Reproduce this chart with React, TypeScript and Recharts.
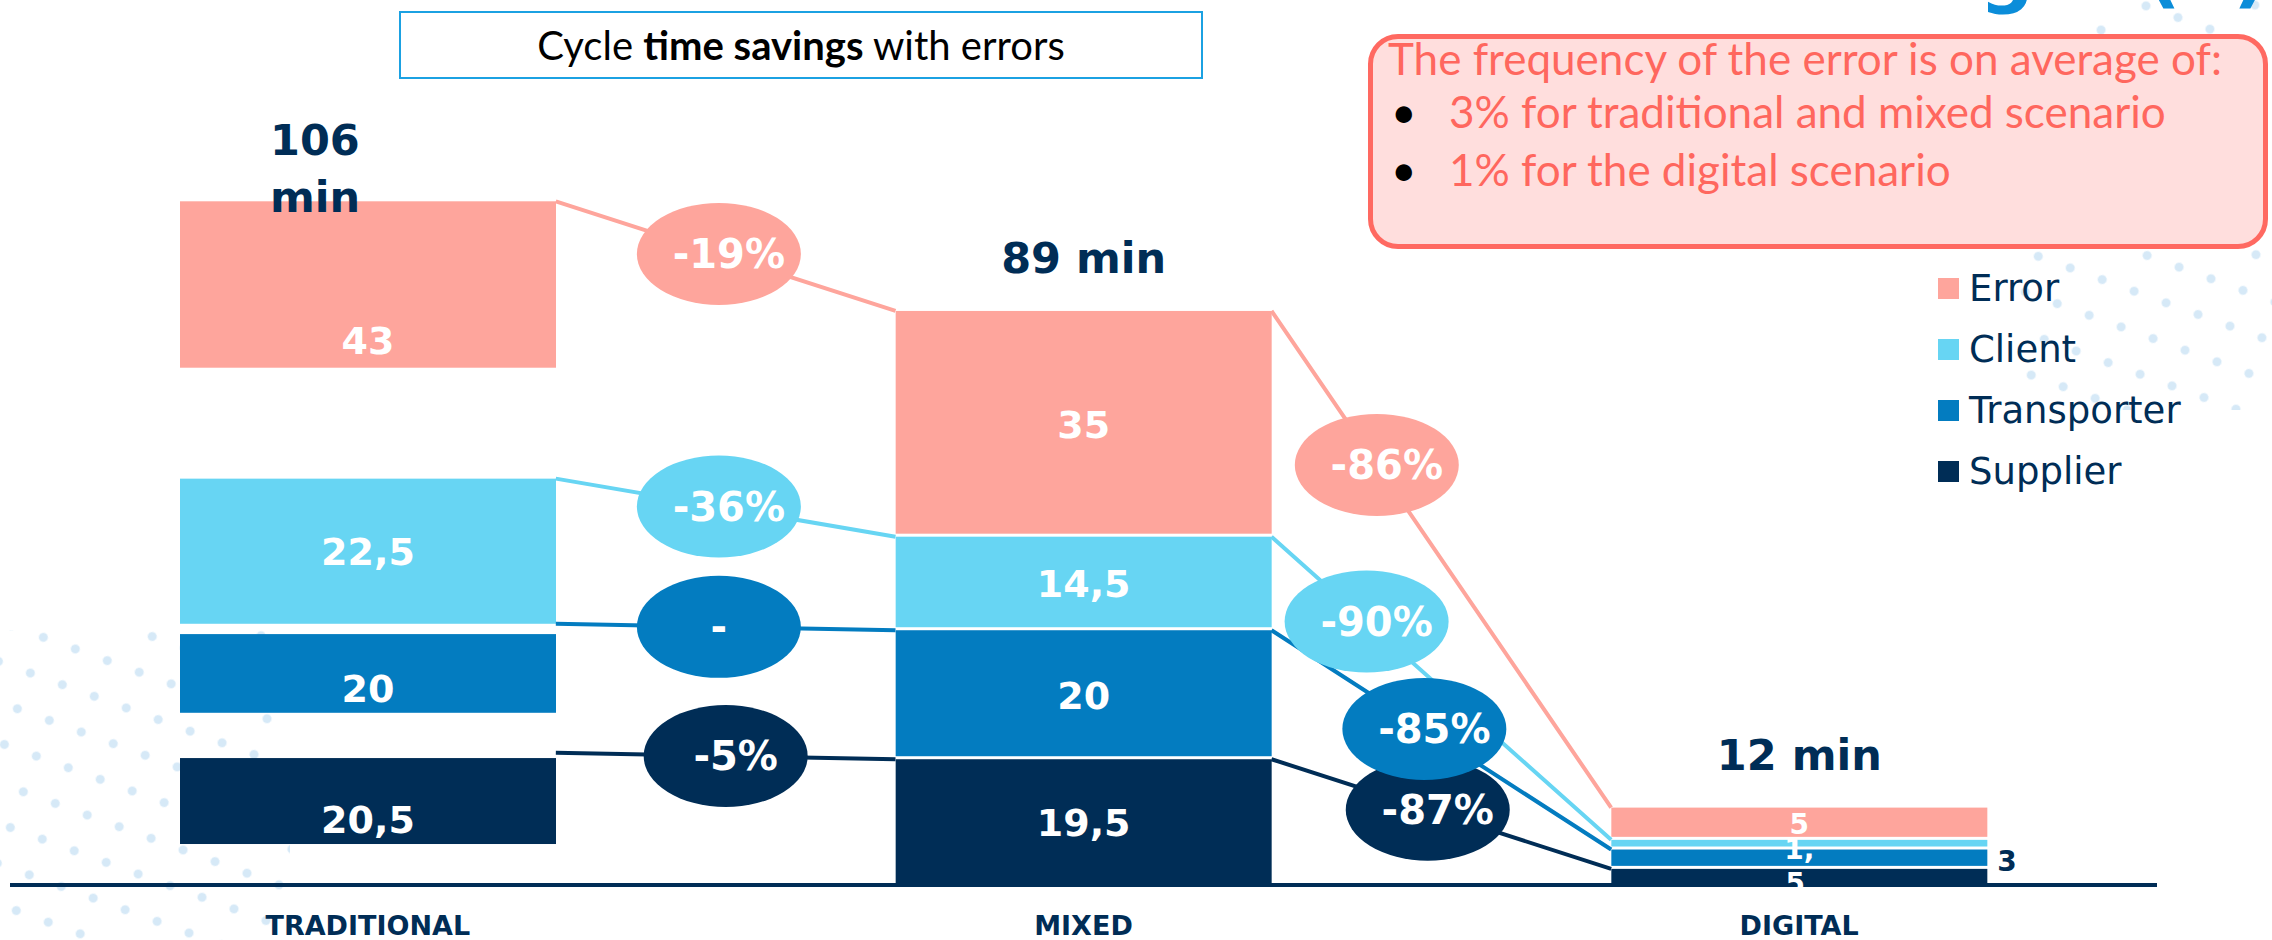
import React from "react";
import {
  ComposedChart,
  Bar,
  Line,
  Scatter,
  XAxis,
  YAxis,
  LabelList,
  Legend,
} from "recharts";

// minutes per actor and scenario
const categories = ["TRADITIONAL", "MIXED", "DIGITAL"];
const supplier = [20.5, 19.5, 2.5];
const transporter = [20, 20, 3];
const client = [22.5, 14.5, 1.5];
const errorTime = [43, 35, 5];
const totals = ["106 min", "89 min", "12 min"];
const toMixed: Record<string, string> = { supplier: "-5%", transporter: "-", client: "-36%", error: "-19%" };
const toDigital: Record<string, string> = { supplier: "-87%", transporter: "-85%", client: "-90%", error: "-86%" };

const NAVY = "#002D56";
const FONT = "'DejaVu Sans', Verdana, sans-serif";
const NOTE_FONT = "Lato, 'Open Sans', sans-serif";

const SERIES = [
  { key: "supplier", name: "Supplier", color: NAVY, values: supplier },
  { key: "transporter", name: "Transporter", color: "#037CC0", values: transporter },
  { key: "client", name: "Client", color: "#67D5F3", values: client },
  { key: "error", name: "Error", color: "#FEA59C", values: errorTime },
];

const W = 2272;
const H = 940;
const MARGIN = { top: 111, right: 115, bottom: 0, left: 10 };
const BAR = 376;
const PLOT_W = W - MARGIN.left - MARGIN.right;
const HW = BAR / 2 / (PLOT_W / categories.length); // half bar width in category units

// the traditional column is drawn "exploded": each block is trimmed (top, bottom fraction)
const TRAD_CUT: Record<string, [number, number]> = {
  supplier: [0.04, 0.31],
  transporter: [0.08, 0.31],
  client: [0, 0],
  error: [0, 0.4],
};
// where the % bubbles sit along each connector (0 = left bar, 1 = right bar)
const PILL_T: Record<string, [number, number]> = {
  supplier: [0.5, 0.46],
  transporter: [0.48, 0.45],
  client: [0.48, 0.28],
  error: [0.48, 0.31],
};

const rows = categories.map((name, i) => ({
  name,
  supplier: supplier[i],
  transporter: transporter[i],
  client: client[i],
  error: errorTime[i],
}));

const tops = SERIES.map((_, k) =>
  categories.map((_, i) => SERIES.slice(0, k + 1).reduce((a, s) => a + s.values[i], 0))
);

const linkData = (k: number) => [
  { x: 0.5 + HW, v: tops[k][0] },
  { x: 1.5 - HW, v: tops[k][1] },
  { x: 1.5, v: null },
  { x: 1.5 + HW, v: tops[k][1] },
  { x: 2.5 - HW, v: tops[k][2] },
];

const pills = SERIES.flatMap((s, k) => {
  const [t1, t2] = PILL_T[s.key];
  const span = 1 - 2 * HW;
  return [
    { x: 0.5 + HW + t1 * span, y: tops[k][0] + t1 * (tops[k][1] - tops[k][0]), label: toMixed[s.key], color: s.color },
    { x: 1.5 + HW + t2 * span, y: tops[k][1] + t2 * (tops[k][2] - tops[k][1]), label: toDigital[s.key], color: s.color },
  ];
});

const fmt = (v: number) => String(v).replace(".", ",");

function segShape(key: string, color: string) {
  return (p: any) => {
    const { x, y, width, height, index } = p;
    if (!height) return <g />;
    let top = y;
    let h = height;
    if (index === 0) {
      const [a, b] = TRAD_CUT[key];
      top = y + height * a;
      h = height * (1 - a - b);
    } else if (key !== "supplier") {
      h = Math.max(height - 3, 1);
    }
    return <rect x={x} y={top} width={width} height={h} fill={color} />;
  };
}

function segLabel(key: string) {
  const s = SERIES.find((d) => d.key === key)!;
  return (p: any) => {
    const vb = p.viewBox ?? p;
    const { x, y, width, height } = vb;
    const i = p.index;
    const cx = x + width / 2;
    const cy = y + height / 2;
    const txt = fmt(s.values[i]);
    const base = { fontFamily: FONT, fontWeight: 700 };
    if (i === 2) {
      if (key === "supplier") return null;
      if (key === "transporter")
        return (
          <text x={x + width + 10} y={cy + 12} fontSize={28} fill={NAVY} {...base}>
            {txt}
          </text>
        );
      if (key === "client") {
        // the digital client value wraps and runs into the blocks below, as on the slide
        const [a, b] = txt.split(",");
        return (
          <text x={cx} y={cy + 14} fontSize={28} fill="#fff" textAnchor="middle" {...base}>
            <tspan x={cx}>{a + ","}</tspan>
            <tspan x={cx - 4} dy={34}>{b}</tspan>
          </text>
        );
      }
      return (
        <text x={cx} y={cy + 10} fontSize={28} fill="#fff" textAnchor="middle" {...base}>
          {txt}
        </text>
      );
    }
    return (
      <text x={cx} y={cy + 14} fontSize={38} fill="#fff" textAnchor="middle" {...base}>
        {txt}
      </text>
    );
  };
}

const TotalLabel = (p: any) => {
  const vb = p.viewBox ?? p;
  const { x, y, width } = vb;
  const i = p.index;
  const st = { fontFamily: FONT, fontWeight: 700, fontSize: 43, fill: NAVY };
  if (i === 0) {
    const [num, unit] = totals[0].split(" ");
    return (
      <text y={y - 46} {...st}>
        <tspan x={x + 90}>{num}</tspan>
        <tspan x={x + 90} dy={57}>{unit}</tspan>
      </text>
    );
  }
  return (
    <text x={x + width / 2} y={y - 38} textAnchor="middle" {...st}>
      {totals[i]}
    </text>
  );
};

const PillShape = (p: any) => {
  const { cx, cy, payload } = p;
  return (
    <g>
      <ellipse cx={cx} cy={cy} rx={82} ry={51} fill={payload.color} />
      <text
        x={cx + (payload.label === "-" ? 0 : 10)}
        y={cy + 14}
        textAnchor="middle"
        fill="#fff"
        fontFamily={FONT}
        fontWeight={700}
        fontSize={40}
      >
        {payload.label}
      </text>
    </g>
  );
};

const CatTick = (p: any) => (
  <text x={p.x} y={p.y + 50} textAnchor="middle" fill={NAVY} fontFamily={FONT} fontWeight={700} fontSize={27}>
    {p.payload.value}
  </text>
);

const LegendBox = (p: any) => {
  const payload = p.payload || [];
  const items = SERIES.slice()
    .reverse()
    .map((s) => payload.find((d: any) => d.value === s.name))
    .filter(Boolean);
  return (
    <div>
      {items.map((d: any) => (
        <div key={d.value} style={{ height: 61, display: "flex", alignItems: "center" }}>
          <span style={{ width: 21, height: 21, background: d.color, marginRight: 10, display: "inline-block" }} />
          <span style={{ fontFamily: FONT, fontSize: 37, lineHeight: 1, color: NAVY }}>{d.value}</span>
        </div>
      ))}
    </div>
  );
};

// faint dotted decoration of the slide background
const dots = (left: number, top: number, width: number, height: number, angle: number) => (
  <div
    style={{
      position: "absolute",
      left,
      top,
      width,
      height,
      overflow: "hidden",
    }}
  >
    <div
      style={{
        position: "absolute",
        left: -width,
        top: -height,
        width: width * 3,
        height: height * 3,
        transform: `rotate(${angle}deg)`,
        backgroundImage: "radial-gradient(circle, #D6E9F7 4px, transparent 5px)",
        backgroundSize: "34px 38px",
      }}
    />
  </div>
);

export default function App() {
  return (
    <div style={{ position: "absolute", left: 0, top: 0, width: W, height: H, background: "#fff", overflow: "hidden" }}>
      {dots(0, 630, 290, 310, 20)}
      {dots(2020, 230, 252, 180, 20)}
      {dots(2080, 0, 192, 40, 20)}

      {/* slide heading, mostly above the crop: only its lower edge shows */}
      <svg width={W} height={50} style={{ position: "absolute", left: 0, top: 0 }}>
        <text x={2034} y={-2} textAnchor="end" fill="#0B8DD9" fontFamily={FONT} fontWeight={700} fontSize={76}>
          saving
        </text>
        <text x={2268} y={-2} textAnchor="end" fill="#0B8DD9" fontFamily={FONT} fontWeight={700} fontSize={76}>
          (1)
        </text>
      </svg>

      <div
        style={{
          position: "absolute",
          left: 399,
          top: 11,
          width: 800,
          height: 64,
          border: "2px solid #1BA1E2",
          fontFamily: NOTE_FONT,
          fontSize: 40,
          lineHeight: "64px",
          textAlign: "center",
          color: "#000",
        }}
      >
        Cycle <b>time savings</b> with errors
      </div>

      <ComposedChart width={W} height={H} data={rows} margin={MARGIN} style={{ position: "absolute", left: 0, top: 0 }}>
        <XAxis
          xAxisId="cat"
          dataKey="name"
          axisLine={{ stroke: NAVY, strokeWidth: 4 }}
          tickLine={false}
          tickSize={0}
          tickMargin={0}
          interval={0}
          height={55}
          tick={<CatTick />}
        />
        <XAxis xAxisId="num" type="number" dataKey="x" domain={[0, 3]} allowDataOverflow hide />
        <YAxis domain={[0, 120]} allowDataOverflow hide />
        {SERIES.map((s) => (
          <Bar
            key={s.key}
            xAxisId="cat"
            dataKey={s.key}
            name={s.name}
            stackId="t"
            fill={s.color}
            barSize={BAR}
            shape={segShape(s.key, s.color)}
            isAnimationActive={false}
          >
            <LabelList dataKey={s.key} content={segLabel(s.key)} />
            {s.key === "error" && <LabelList dataKey="error" content={TotalLabel} />}
          </Bar>
        ))}
        {SERIES.map((s, k) => (
          <Line
            key={"l" + s.key}
            xAxisId="num"
            data={linkData(k)}
            dataKey="v"
            type="linear"
            stroke={s.color}
            strokeWidth={4}
            dot={false}
            activeDot={false}
            connectNulls={false}
            legendType="none"
            isAnimationActive={false}
          />
        ))}
        <Scatter
          xAxisId="num"
          data={pills}
          dataKey="y"
          shape={PillShape}
          legendType="none"
          isAnimationActive={false}
        />
        <Legend
          layout="vertical"
          align="center"
          verticalAlign="middle"
          content={LegendBox}
          wrapperStyle={{ position: "absolute", left: 1938, top: 258, width: 320 }}
        />
      </ComposedChart>

      <div
        style={{
          position: "absolute",
          left: 1368,
          top: 34,
          width: 890,
          height: 205,
          background: "#FFDEDD",
          border: "5px solid #FF6961",
          borderRadius: 30,
          fontFamily: NOTE_FONT,
          fontSize: 44,
          lineHeight: 1.2,
          color: "#FF675E",
        }}
      >
        <div style={{ position: "absolute", left: 15, top: -7, whiteSpace: "nowrap" }}>
          The frequency of the error is on average of:
        </div>
        <div style={{ position: "absolute", left: 18, top: 46, whiteSpace: "nowrap" }}>
          <span style={{ color: "#000", display: "inline-block", width: 58 }}>•</span>3% for traditional and mixed scenario
        </div>
        <div style={{ position: "absolute", left: 18, top: 104, whiteSpace: "nowrap" }}>
          <span style={{ color: "#000", display: "inline-block", width: 58 }}>•</span>1% for the digital scenario
        </div>
      </div>
    </div>
  );
}
